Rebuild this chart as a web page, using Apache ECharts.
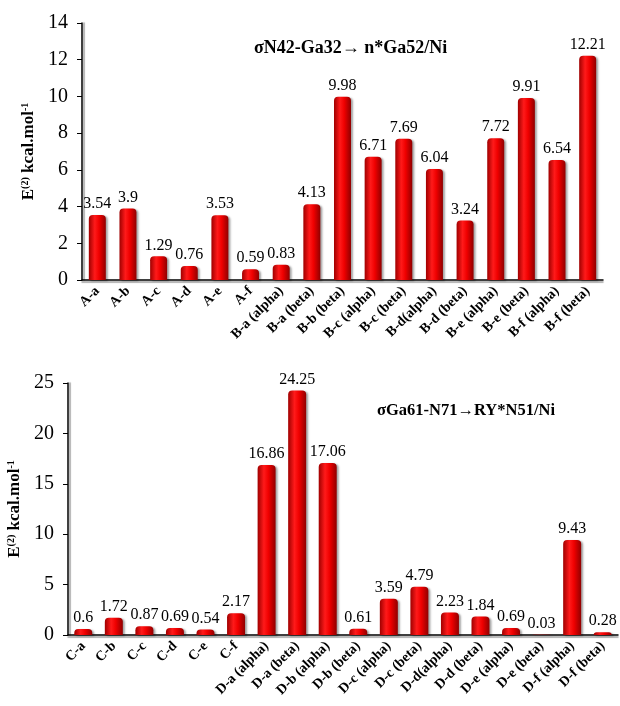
<!DOCTYPE html>
<html><head><meta charset="utf-8">
<script src="https://cdn.jsdelivr.net/npm/echarts@6/dist/echarts.min.js"></script>
<style>html,body{margin:0;padding:0;background:#fff}#c{width:620px;height:706px}</style>
</head><body><div id="c"></div>
<script>
const catsTop = ['A-a','A-b','A-c','A-d','A-e','A-f','B-a (alpha)','B-a (beta)','B-b (beta)','B-c (alpha)','B-c (beta)','B-d(alpha)','B-d (beta)','B-e (alpha)','B-e (beta)','B-f (alpha)','B-f (beta)'];
const valsTop = [3.54,3.9,1.29,0.76,3.53,0.59,0.83,4.13,9.98,6.71,7.69,6.04,3.24,7.72,9.91,6.54,12.21];
const catsBot = ['C-a','C-b','C-c','C-d','C-e','C-f','D-a (alpha)','D-a (beta)','D-b (alpha)','D-b (beta)','D-c (alpha)','D-c (beta)','D-d(alpha)','D-d (beta)','D-e (alpha)','D-e (beta)','D-f (alpha)','D-f (beta)'];
const valsBot = [0.6,1.72,0.87,0.69,0.54,2.17,16.86,24.25,17.06,0.61,3.59,4.79,2.23,1.84,0.69,0.03,9.43,0.28];
const ticksTop = [0,2,4,6,8,10,12,14];
const ticksBot = [0,5,10,15,20,25];
const titleTop = 'σN42-Ga32\u2192 n*Ga52/Ni';
const titleBot = 'σGa61-N71\u2192RY*N51/Ni';

const serif = '"Liberation Serif","Times New Roman",serif';
const barColor = new echarts.graphic.LinearGradient(0,0,1,0,[
  {offset:0,color:'#a00000'},{offset:0.35,color:'#ff1a1a'},{offset:0.6,color:'#f00000'},{offset:1,color:'#900000'}]);
const chart = echarts.init(document.getElementById('c'));
const nameRich = {b:{fontFamily:serif,fontWeight:'bold',fontSize:17,color:'#000'},s:{fontFamily:serif,fontWeight:'bold',fontSize:10,color:'#000',verticalAlign:'top',padding:[0,0,7,0]}};
function xAxis(cats,gi){
  return {type:'category',data:cats,gridIndex:gi,
    axisLine:{lineStyle:{color:'#000',width:1.5,shadowColor:'rgba(0,0,0,0.4)',shadowOffsetY:2,shadowBlur:1}},
    axisTick:{show:false},
    axisLabel:{rotate:45,interval:0,fontFamily:serif,fontWeight:'bold',fontSize:14,color:'#000',margin:9}};
}
function yAxis(max,interval,gi,gap,ticks){
  return {type:'value',min:ticks[0],max:max,interval:interval,gridIndex:gi,
    name:'{b|E}{s|(2)}{b| kcal.mol}{s|-1}',nameLocation:'middle',nameGap:gap,nameRotate:90,
    nameTextStyle:{rich:nameRich},
    axisLine:{show:true,lineStyle:{color:'#000',width:1.5,shadowColor:'rgba(0,0,0,0.4)',shadowOffsetX:2,shadowBlur:1}},
    axisTick:{show:true,length:5,lineStyle:{color:'#000'}},
    splitLine:{show:false},
    axisLabel:{fontFamily:serif,fontSize:20,color:'#000',margin:14,
      formatter:v=>ticks.includes(v)?String(v):''}};
}
function series(vals,gi,bw){
  return {type:'bar',xAxisIndex:gi,yAxisIndex:gi,data:vals,barWidth:bw,
    itemStyle:{color:barColor,borderRadius:[4,4,0,0],shadowColor:'rgba(0,0,0,0.35)',shadowOffsetX:2,shadowOffsetY:1,shadowBlur:2},
    label:{show:true,position:'top',distance:3,fontFamily:serif,fontSize:16,color:'#000'}};
}
chart.setOption({
  animation:false,
  title:[
    {text:titleTop,left:249,top:34,textStyle:{fontFamily:serif,fontWeight:'bold',fontSize:18,color:'#000'}},
    {text:titleBot,left:372,top:397,textStyle:{fontFamily:serif,fontWeight:'bold',fontSize:16.5,color:'#000'}}
  ],
  grid:[
    {left:82,top:23,width:521,height:257,containLabel:false,outerBoundsMode:'none'},
    {left:68,top:383,width:550,height:252,containLabel:false,outerBoundsMode:'none'}
  ],
  xAxis:[xAxis(catsTop,0),xAxis(catsBot,1)],
  yAxis:[yAxis(14,2,0,39,ticksTop),yAxis(25,5,1,39,ticksBot)],
  series:[series(valsTop,0,17),series(valsBot,1,18)]
});
</script></body></html>
